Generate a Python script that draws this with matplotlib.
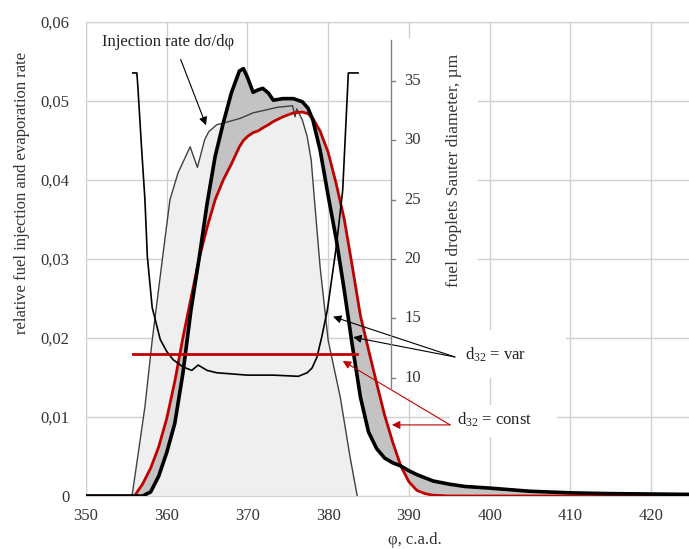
import matplotlib
matplotlib.use("Agg")
import matplotlib.pyplot as plt
from matplotlib.patches import Rectangle
from matplotlib.ticker import FuncFormatter, MultipleLocator

plt.rcParams["font.family"] = ["Liberation Serif", "DejaVu Serif"]
plt.rcParams["mathtext.fontset"] = "custom"
plt.rcParams["mathtext.rm"] = "Liberation Serif"
plt.rcParams["mathtext.it"] = "Liberation Serif:italic"

RED = "#c00000"
GRID = "#d0d0d0"

# injection rate dσ/dφ (left axis)
INJ_X = [355.7, 356.5, 357.3, 358.2, 359.5, 360.4, 361.4, 362.9, 363.8, 364.7, 365.2,
         366.2, 367.0, 369.1, 370.7, 373.7, 375.6, 375.9, 376.1, 376.8, 377.4, 377.9,
         378.3, 379.0, 380.0, 381.5, 382.7, 383.6]
INJ_Y = [0.0, 0.0056, 0.0113, 0.0197, 0.0303, 0.0375, 0.0409, 0.0442, 0.0416, 0.0451, 0.0461,
         0.0470, 0.0472, 0.0478, 0.0485, 0.0492, 0.0494, 0.0480, 0.0490, 0.0476, 0.0455, 0.0425,
         0.0375, 0.0290, 0.0197, 0.0125, 0.0050, 0.0]

# evaporation rate, d32 = var and d32 = const (left axis)
EVAP_X = [350, 355, 356, 357, 358, 359, 360, 361, 362, 363, 364, 365, 366, 367, 368, 369,
          369.5, 370, 370.7, 371.3, 371.9, 372.6, 373.2, 374.4, 375.7, 376.8, 377.5, 378.1,
          379, 380, 381, 382, 383, 384, 385, 386, 387, 388, 389, 390, 391, 392, 393, 395,
          397, 400, 405, 410, 415, 420, 425]
EVAP_VAR = [0.0, 0.0, 0.0, 0.0, 0.0005, 0.0025, 0.0055, 0.0092, 0.0155, 0.0235, 0.0300,
            0.0370, 0.0430, 0.0472, 0.0510, 0.0538, 0.0541, 0.0530, 0.0511, 0.0514, 0.0516,
            0.0510, 0.0501, 0.0503, 0.0503, 0.0499, 0.0491, 0.0476, 0.0438, 0.0380, 0.0325,
            0.0260, 0.0190, 0.0125, 0.0081, 0.0060, 0.0048, 0.0042, 0.0038, 0.0032, 0.0027,
            0.0023, 0.0019, 0.0015, 0.0012, 0.0010, 0.0006, 0.0004, 0.0003, 0.00025, 0.0002]
EVAP_CONST = [0.0, 0.0, 0.0, 0.0015, 0.0035, 0.0062, 0.0098, 0.0145, 0.0200, 0.0250, 0.0300,
              0.0340, 0.0375, 0.0400, 0.0420, 0.0442, 0.0450, 0.0455, 0.0460, 0.0462, 0.0466,
              0.0470, 0.0474, 0.0480, 0.0485, 0.0486, 0.0484, 0.0478, 0.0462, 0.0435, 0.0395,
              0.0350, 0.0290, 0.0228, 0.0185, 0.0143, 0.0102, 0.0068, 0.0038, 0.0018, 0.0007,
              0.0003, 0.0001, 0.0, 0.0, 0.0, 0.0, 0.0, 0.0, 0.0, 0.0]

# Sauter diameter (right axis, µm)
D32_X = [355.8, 356.3, 356.4, 356.9, 357.3, 357.6, 358.2, 359.2, 360.0, 360.8, 362.0, 363.1,
         363.9, 365.0, 366.2, 370.0, 373.2, 376.3, 377.4, 378.0, 378.6, 379.2, 379.9, 381.0,
         381.8, 382.5, 383.7]
D32_VAR = [35.7, 35.7, 34.8, 29.2, 25.0, 20.2, 15.9, 13.2, 12.2, 11.5, 10.9, 10.6,
           11.05, 10.6, 10.4, 10.2, 10.2, 10.1, 10.4, 10.8, 11.7, 13.4, 15.7, 21.0,
           25.8, 35.7, 35.7]
D32_CONST_X = [355.8, 383.6]
D32_CONST = [12.0, 12.0]

X_TICKS = [350, 360, 370, 380, 390, 400, 410, 420]
D32_TICKS = [10, 15, 20, 25, 30, 35]
D32_AXIS_X = 387.8


def main():
    fig = plt.figure(figsize=(6.89, 5.49), dpi=100)
    ax = fig.add_axes([86 / 689, 53 / 549, 603 / 689, 474 / 549])
    ax.set_xlim(350, 424.7)
    ax.set_ylim(0, 0.06)
    ax.set_axisbelow(True)
    ax.grid(True, color=GRID, lw=1)
    for side in ["top", "right", "bottom", "left"]:
        ax.spines[side].set_color(GRID)
    ax.spines["right"].set_visible(False)
    ax.xaxis.set_major_locator(MultipleLocator(10))
    ax.yaxis.set_major_locator(MultipleLocator(0.01))
    ax.yaxis.set_major_formatter(FuncFormatter(lambda v, _: "0" if abs(v) < 1e-9 else f"{v:.2f}".replace(".", ",")))
    ax.tick_params(length=0, labelsize=12, colors="#333333")
    ax.tick_params(axis="x", pad=9)
    ax.tick_params(axis="y", pad=12)
    ax.set_xticks(X_TICKS)

    ax.set_xlabel("φ, c.a.d.", fontsize=12, color="#333333")
    ax.xaxis.set_label_coords(0.546, -0.075)
    ax.set_ylabel("relative fuel injection and evaporation rate", fontsize=12, color="#333333")
    ax.yaxis.set_label_coords(-0.093, 0.64)

    # blank areas behind the inner axis and labels
    for x0, x1, y0, y1 in [(387.9, 398.6, 0.0125, 0.058),
                           (395.7, 409.5, 0.0149, 0.0210),
                           (395.1, 408.4, 0.0075, 0.0115)]:
        ax.add_patch(Rectangle((x0, y0), x1 - x0, y1 - y0, facecolor="white",
                               edgecolor="none", zorder=0.8))

    ax.fill_between(INJ_X, INJ_Y, 0, color="#efefef", lw=0, zorder=1)
    ax.fill_between(EVAP_X, EVAP_VAR, EVAP_CONST, color="#c3c3c3", lw=0, zorder=1.2)
    ax.plot(INJ_X, INJ_Y, color="#404040", lw=1.0, zorder=2)
    ax.plot(EVAP_X, EVAP_CONST, color=RED, lw=2.0, zorder=3)
    ax.plot(EVAP_X, EVAP_VAR, color="black", lw=2.6, zorder=4)

    ax2 = ax.twinx()
    ax2.set_ylim(0, 40)
    ax2.set_yticks([])
    for side in ax2.spines.values():
        side.set_visible(False)
    ax2.plot([D32_AXIS_X, D32_AXIS_X], [9.0, 38.5], color="#808080", lw=1)
    for v in D32_TICKS:
        ax2.plot([D32_AXIS_X, D32_AXIS_X + 0.5], [v, v], color="#808080", lw=1)
        ax2.text(D32_AXIS_X + 1.6, v, str(v), fontsize=12, color="#333333", va="center", ha="left")
    ax2.text(395.6, 27.5, "fuel droplets Sauter diameter, µm", rotation=90,
             fontsize=12.5, color="#333333", ha="center", va="center")
    ax2.plot(D32_X, D32_VAR, color="black", lw=1.2, zorder=5)
    ax2.plot(D32_CONST_X, D32_CONST, color=RED, lw=2.0, zorder=5)

    # annotations
    ax.text(352.0, 0.0575, "Injection rate dσ/dφ", fontsize=12, color="#222222", va="center", ha="left")
    ax.annotate("", xy=(365.0, 0.0466), xytext=(361.6, 0.0556),
                arrowprops=dict(arrowstyle="-|>", color="black", lw=0.8, mutation_scale=12), zorder=6)

    ax.text(397.0, 0.01785, r"d$_{32}$ = var", fontsize=12, color="#222222", va="center", ha="left", zorder=6)
    for tip in [(383.1, 0.0201), (380.6, 0.0227)]:
        ax.annotate("", xy=tip, xytext=(395.7, 0.0176),
                    arrowprops=dict(arrowstyle="-|>", color="black", lw=0.8, mutation_scale=12,
                                    shrinkA=0, shrinkB=0), zorder=6)

    ax.text(396.0, 0.0096, r"d$_{32}$ = const", fontsize=12, color="#222222", va="center", ha="left", zorder=6)
    for tip in [(387.9, 0.0090), (381.8, 0.0171)]:
        ax.annotate("", xy=tip, xytext=(395.1, 0.0090),
                    arrowprops=dict(arrowstyle="-|>", color=RED, lw=0.8, mutation_scale=12,
                                    shrinkA=0, shrinkB=0), zorder=6)

    fig.savefig("out.png", dpi=100)
    plt.close(fig)


if __name__ == "__main__":
    main()
